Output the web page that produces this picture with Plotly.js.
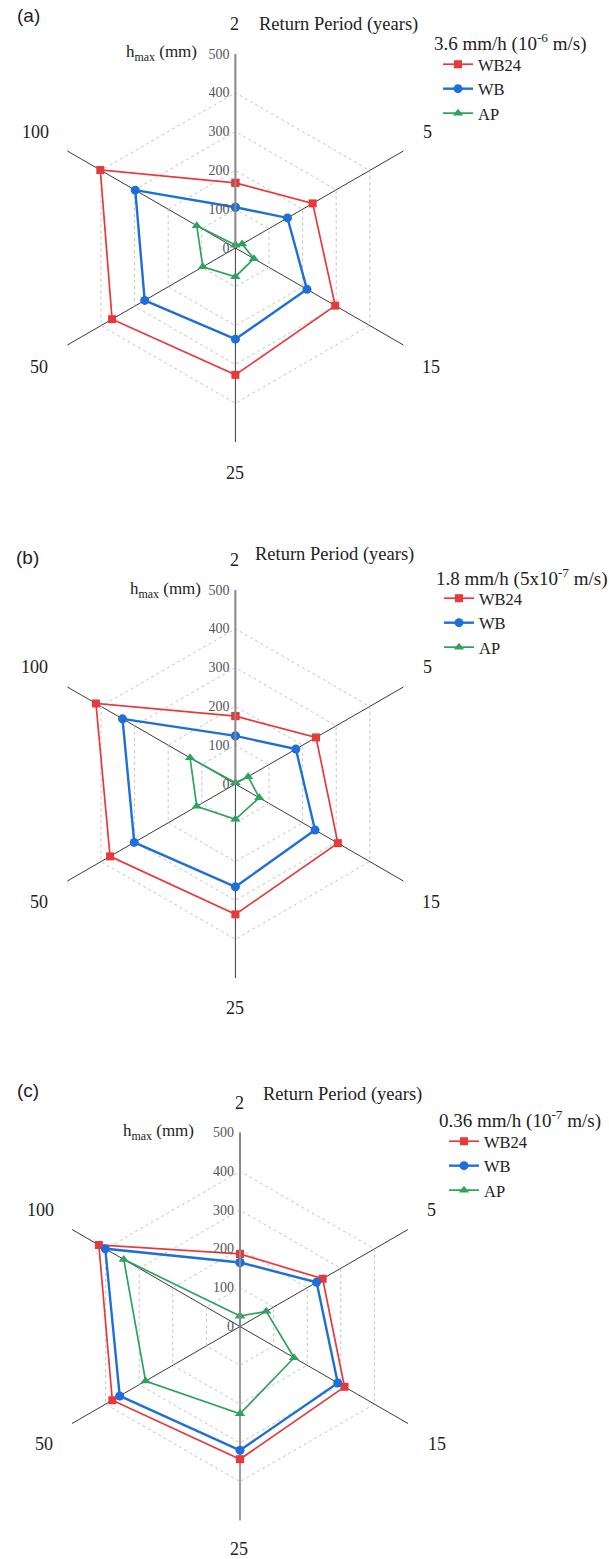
<!DOCTYPE html>
<html>
<head>
<meta charset="utf-8">
<script src="https://cdn.plot.ly/plotly-3.0.1.min.js"></script>
<style>
html,body{margin:0;padding:0;background:#fff;}
#chart{width:609px;height:1559px;}
</style>
</head>
<body>
<div id="chart"></div>
<script>
// Return periods (years) on the angular axis
const categories = ["2", "5", "15", "25", "50", "100"];
const seriesNames = ["WB24", "WB", "AP"];
const radialTicks = [0, 100, 200, 300, 400, 500];
const panelLabels = ["(a)", "(b)", "(c)"];
const legendTitles = [
  "3.6 mm/h (10<sup>-6</sup> m/s)",
  "1.8 mm/h (5x10<sup>-7</sup> m/s)",
  "0.36 mm/h (10<sup>-7</sup> m/s)"
];

// h_max (mm)
const a_WB24 = [168, 230, 297, 327, 367, 402];
const a_WB   = [105, 155, 213, 235, 270, 298];
const a_AP   = [8, 20, 55, 74, 97, 115];

const b_WB24 = [175, 240, 305, 336, 373, 415];
const b_WB   = [124, 180, 237, 265, 301, 336];
const b_AP   = [3, 38, 71, 91, 115, 135];

const c_WB24 = [187, 246, 311, 342, 380, 420];
const c_WB   = [165, 228, 291, 319, 358, 401];
const c_AP   = [27, 78, 161, 225, 281, 346];

const panels = [
  [a_WB24, a_WB, a_AP],
  [b_WB24, b_WB, b_AP],
  [c_WB24, c_WB, c_AP]
];

const W = 609, H = 1559;
const styles = [
  {color: "#e8393a", width: 1.7, symbol: "square", size: 8},
  {color: "#1f6fd8", width: 2.4, symbol: "circle", size: 9},
  {color: "#2ea35e", width: 1.7, symbol: "triangle-up", size: 9}
];

// panel geometry in pixels: centre and radius
const geom = [
  {cx: 235.4, cy: 248, R: 194},
  {cx: 235.4, cy: 784, R: 194},
  {cx: 240, cy: 1326.5, R: 194}
];
// pixel positions of the angular (return period) labels, in category order
const catLabelPos = [
  [[235, 24], [427, 132], [431, 367], [235, 473], [39, 367], [35, 132]],
  [[235, 560], [427, 667], [431, 902], [235, 1008], [39, 902], [34, 667]],
  [[239, 1103], [431, 1210], [437, 1444], [239, 1549], [44, 1444], [40, 1210]]
];
const returnTitlePos = [[338.6, 24], [334, 554], [342, 1094]];
const hmaxPos = [[199, 53], [203, 590], [196, 1132]];
const panelLabelPos = [[15, 15], [14, 558], [15, 1090]];
const legendTitlePos = [[432, 43], [434, 577], [437, 1119]];
const legendPos = [[438, 47], [439, 581], [444, 1124]];

const serif = "Liberation Serif";
const traces = [];
const layout = {
  width: W, height: H,
  margin: {l: 0, r: 0, t: 0, b: 0},
  paper_bgcolor: "#fff",
  font: {family: serif, color: "#222"},
  annotations: [],
  showlegend: true
};

panels.forEach((series, p) => {
  const polarId = p === 0 ? "polar" : "polar" + (p + 1);
  const legendId = p === 0 ? "legend" : "legend" + (p + 1);
  series.forEach((vals, s) => {
    const st = styles[s];
    traces.push({
      type: "scatterpolar",
      mode: "lines+markers",
      name: seriesNames[s],
      r: vals.concat([vals[0]]),
      theta: categories.concat([categories[0]]),
      subplot: polarId,
      legend: legendId,
      line: {color: st.color, width: st.width},
      marker: {color: st.color, symbol: st.symbol, size: st.size},
      cliponaxis: false
    });
  });
  const g = geom[p];
  layout[polarId] = {
    domain: {
      x: [(g.cx - g.R) / W, (g.cx + g.R) / W],
      y: [1 - (g.cy + g.R) / H, 1 - (g.cy - g.R) / H]
    },
    bgcolor: "#fff",
    gridshape: "linear",
    radialaxis: {
      range: [0, 500],
      tickvals: radialTicks,
      angle: 90,
      tickangle: 90,
      side: "counterclockwise",
      showline: true,
      linecolor: "#8a8a8a",
      linewidth: 2,
      ticks: "",
      gridcolor: "#c4c4c4",
      griddash: "dot",
      gridwidth: 1,
      tickfont: {family: serif, size: 14, color: "#555"}
    },
    angularaxis: {
      type: "category",
      categoryarray: categories,
      rotation: 90,
      direction: "clockwise",
      gridcolor: "#3a3a3a",
      gridwidth: 1,
      showline: false,
      ticks: "",
      showticklabels: false
    }
  };
  categories.forEach((c, i) => {
    const pos = catLabelPos[p][i];
    layout.annotations.push({
      text: c, x: pos[0] / W, y: 1 - pos[1] / H, xref: "paper", yref: "paper",
      showarrow: false, xanchor: "center", yanchor: "middle",
      font: {family: serif, size: 18, color: "#222"}
    });
  });
  layout[legendId] = {
    x: legendPos[p][0] / W, xanchor: "left",
    y: 1 - legendPos[p][1] / H, yanchor: "top",
    font: {family: serif, size: 16.5, color: "#222"},
    bgcolor: "rgba(0,0,0,0)",
    tracegroupgap: 0,
    itemwidth: 30
  };
  layout.annotations.push(
    {text: legendTitles[p], x: legendTitlePos[p][0] / W, y: 1 - legendTitlePos[p][1] / H,
     xref: "paper", yref: "paper", showarrow: false,
     font: {family: serif, size: 19, color: "#222"}, xanchor: "left", yanchor: "middle"},
    {text: "Return Period (years)", x: returnTitlePos[p][0] / W, y: 1 - returnTitlePos[p][1] / H,
     xref: "paper", yref: "paper", showarrow: false,
     font: {family: serif, size: 18.5, color: "#222"}, xanchor: "center", yanchor: "middle"},
    {text: "h<sub>max</sub> (mm)", x: hmaxPos[p][0] / W, y: 1 - hmaxPos[p][1] / H,
     xref: "paper", yref: "paper", showarrow: false,
     font: {family: serif, size: 17, color: "#222"}, xanchor: "right", yanchor: "middle"},
    {text: panelLabels[p], x: panelLabelPos[p][0] / W, y: 1 - panelLabelPos[p][1] / H,
     xref: "paper", yref: "paper", showarrow: false,
     font: {family: "Liberation Sans", size: 19, color: "#222"}, xanchor: "left", yanchor: "middle"}
  );
});

Plotly.newPlot("chart", traces, layout, {displayModeBar: false, responsive: false});
</script>
</body>
</html>
